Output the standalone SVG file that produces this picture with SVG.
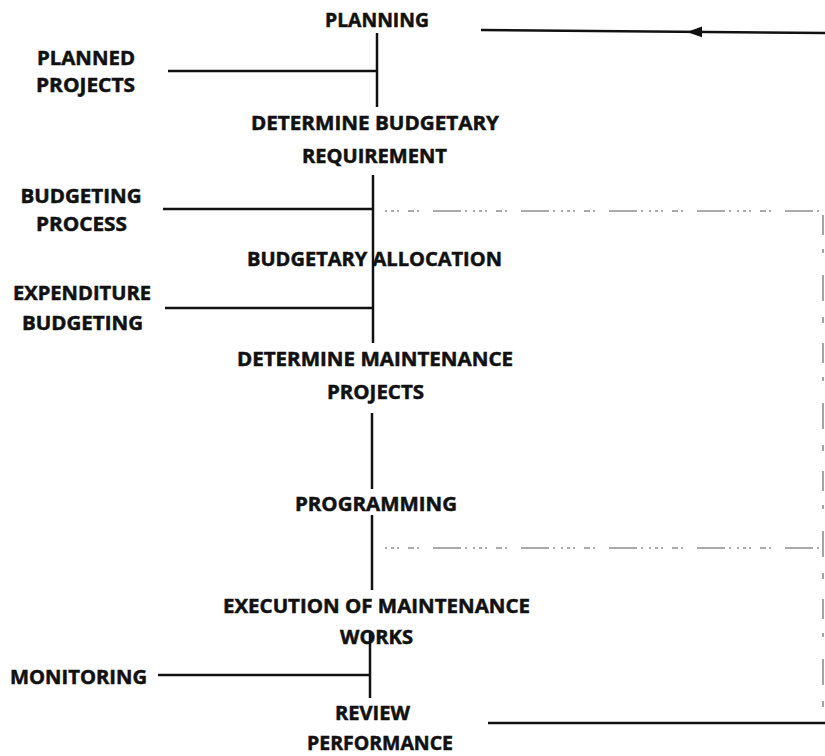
<svg xmlns="http://www.w3.org/2000/svg" width="825" height="756" viewBox="0 0 825 756">
  <style>
    .lbl { font-family: "Open Sans", "Liberation Sans", sans-serif; font-weight: bold; font-size: 19px; fill: #111; stroke: #111; stroke-width: 0.5; text-anchor: middle; }
    .ln { stroke: #111; stroke-width: 2.5; fill: none; stroke-linecap: butt; }
    .faint { stroke: #444; stroke-width: 1.5; fill: none; stroke-dasharray: 2 4 3 3 2 9 6 3 2 14 28 4 2 6; opacity: 0.6; }
    .edge { stroke: #888; stroke-width: 1.5; fill: none; stroke-dasharray: 20 14 4 22 26 16 6 20; }
  </style>
  <rect width="825" height="756" fill="#fff"/>

  <!-- connectors -->
  <g id="connectors">
    <!-- main spine -->
    <line class="ln" x1="377" y1="33" x2="377" y2="107"/>
    <line class="ln" x1="373" y1="175" x2="373" y2="343"/>
    <line class="ln" x1="372" y1="413" x2="372" y2="489"/>
    <line class="ln" x1="372" y1="515" x2="372" y2="590"/>
    <line class="ln" x1="370" y1="633" x2="370" y2="698"/>
    <!-- side inputs -->
    <line class="ln" x1="168" y1="71" x2="377" y2="71"/>
    <line class="ln" x1="163" y1="209" x2="373" y2="209"/>
    <line class="ln" x1="165" y1="308" x2="373" y2="308"/>
    <line class="ln" x1="158" y1="675" x2="370" y2="675"/>
    <!-- feedback loop -->
    <line class="ln" x1="481" y1="30" x2="825" y2="33" stroke-width="2.8"/>
    <path d="M687,31.9 L702,26.5 L702,37.3 Z" fill="#111"/>
    <line class="ln" x1="488" y1="723" x2="825" y2="723" stroke-width="3"/>
    <line class="edge" x1="823" y1="215" x2="823" y2="722"/>
    <line class="faint" x1="385" y1="211" x2="825" y2="211"/>
    <line class="faint" x1="385" y1="548" x2="825" y2="548"/>
  </g>

  <!-- nodes -->
  <g id="planning"><text class="lbl" x="377" y="26.5" textLength="104" lengthAdjust="spacingAndGlyphs">PLANNING</text></g>
  <g id="planned-projects">
    <text class="lbl" x="86" y="65" textLength="98" lengthAdjust="spacingAndGlyphs">PLANNED</text>
    <text class="lbl" x="85.5" y="92" textLength="99" lengthAdjust="spacingAndGlyphs">PROJECTS</text>
  </g>
  <g id="determine-budgetary">
    <text class="lbl" x="375" y="130" textLength="248" lengthAdjust="spacingAndGlyphs">DETERMINE BUDGETARY</text>
    <text class="lbl" x="374.5" y="163" textLength="145" lengthAdjust="spacingAndGlyphs">REQUIREMENT</text>
  </g>
  <g id="budgeting-process">
    <text class="lbl" x="81" y="203" textLength="121" lengthAdjust="spacingAndGlyphs">BUDGETING</text>
    <text class="lbl" x="81.5" y="231" textLength="91" lengthAdjust="spacingAndGlyphs">PROCESS</text>
  </g>
  <g id="budgetary-allocation">
    <text class="lbl" x="374.5" y="266" textLength="255" lengthAdjust="spacingAndGlyphs">BUDGETARY ALLOCATION</text>
  </g>
  <g id="expenditure-budgeting">
    <text class="lbl" x="82" y="300" textLength="138" lengthAdjust="spacingAndGlyphs">EXPENDITURE</text>
    <text class="lbl" x="82.5" y="330" textLength="121" lengthAdjust="spacingAndGlyphs">BUDGETING</text>
  </g>
  <g id="determine-maintenance">
    <text class="lbl" x="375" y="366" textLength="276" lengthAdjust="spacingAndGlyphs">DETERMINE MAINTENANCE</text>
    <text class="lbl" x="375.5" y="399" textLength="97" lengthAdjust="spacingAndGlyphs">PROJECTS</text>
  </g>
  <g id="programming">
    <text class="lbl" x="376" y="511" textLength="162" lengthAdjust="spacingAndGlyphs">PROGRAMMING</text>
  </g>
  <g id="execution">
    <text class="lbl" x="376.5" y="613" textLength="307" lengthAdjust="spacingAndGlyphs">EXECUTION OF MAINTENANCE</text>
    <text class="lbl" x="376.5" y="644" textLength="73" lengthAdjust="spacingAndGlyphs">WORKS</text>
  </g>
  <g id="monitoring">
    <text class="lbl" x="78.5" y="684" textLength="137" lengthAdjust="spacingAndGlyphs">MONITORING</text>
  </g>
  <g id="review-performance">
    <text class="lbl" x="372.5" y="720" textLength="75" lengthAdjust="spacingAndGlyphs">REVIEW</text>
    <text class="lbl" x="380" y="750" textLength="146" lengthAdjust="spacingAndGlyphs">PERFORMANCE</text>
  </g>
</svg>
